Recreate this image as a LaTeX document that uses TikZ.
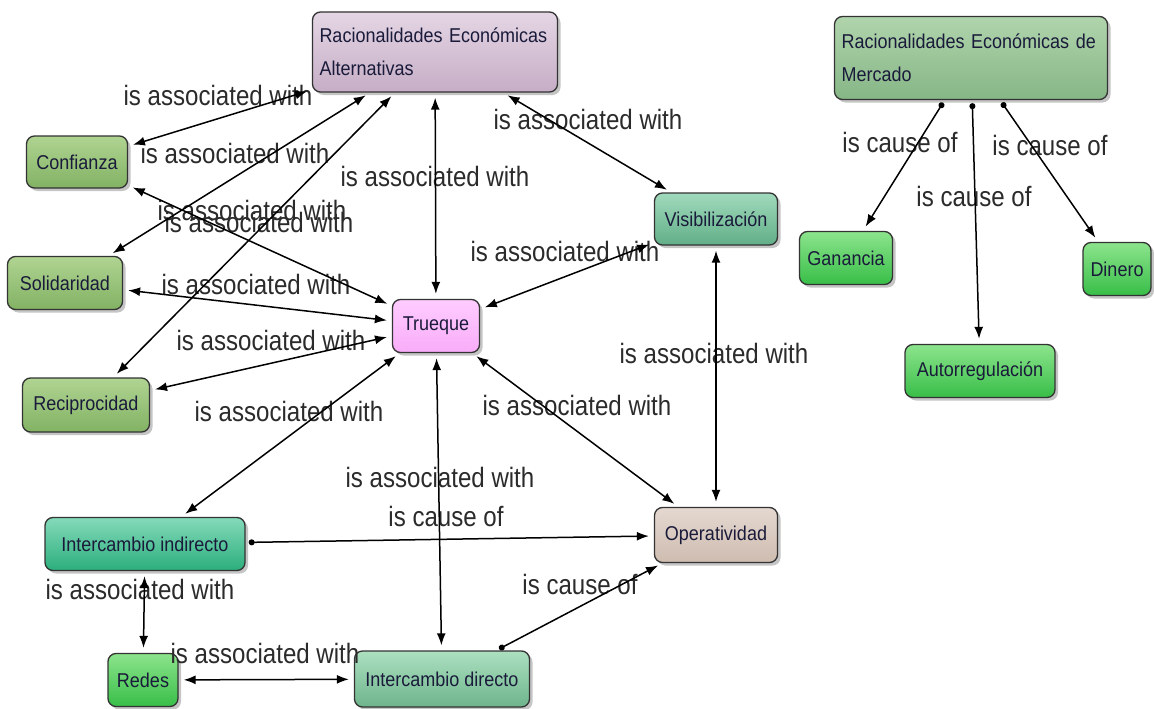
\documentclass[tikz,border=0pt]{standalone}
\usepackage{fontspec}
\setmainfont{Liberation Sans}
\newfontfamily\conceptfont[FakeStretch=0.9]{Liberation Sans}
\newfontfamily\linkfont[FakeStretch=0.86]{Liberation Sans}
\usetikzlibrary{arrows.meta,shadows}

\definecolor{conceptink}{HTML}{1A1A3A}
\definecolor{linkink}{HTML}{2B2B2B}

\tikzset{
  concept/.style={draw=black!80, line width=1.3pt, rounded corners=8pt, inner sep=6pt,
    text=conceptink, font=\conceptfont\fontsize{20}{33}\selectfont,
    drop shadow={shadow xshift=3pt, shadow yshift=-3pt, opacity=0.45}},
  linkphrase/.style={inner sep=0pt, text=linkink, font=\linkfont\fontsize{28}{30}\selectfont},
  assoc/.style={{Latex[length=12pt,width=9pt]}-{Latex[length=12pt,width=9pt]},
    line width=1.5pt, shorten <=5pt, shorten >=5pt},
  cause/.style={{Circle[length=6pt]}-{Latex[length=12pt,width=9pt]},
    line width=1.5pt, shorten <=3pt, shorten >=5pt},
}
% fills (top -> bottom)
\tikzset{
  lilac/.style={top color={rgb,255:red,228;green,214;blue,228}, bottom color={rgb,255:red,198;green,174;blue,198}},
  sage/.style={top color={rgb,255:red,176;green,212;blue,172}, bottom color={rgb,255:red,134;green,182;blue,134}},
  olive/.style={top color={rgb,255:red,176;green,212;blue,146}, bottom color={rgb,255:red,130;green,178;blue,100}},
  pink/.style={top color={rgb,255:red,255;green,204;blue,255}, bottom color={rgb,255:red,248;green,172;blue,248}},
  mint/.style={top color={rgb,255:red,160;green,218;blue,188}, bottom color={rgb,255:red,98;green,174;blue,136}},
  lime/.style={top color={rgb,255:red,140;green,228;blue,140}, bottom color={rgb,255:red,56;green,190;blue,72}},
  jade/.style={top color={rgb,255:red,132;green,218;blue,186}, bottom color={rgb,255:red,44;green,174;blue,124}},
  sand/.style={top color={rgb,255:red,228;green,216;blue,208}, bottom color={rgb,255:red,206;green,188;blue,176}},
  seafoam/.style={top color={rgb,255:red,172;green,224;blue,192}, bottom color={rgb,255:red,110;green,180;blue,140}},
}

\begin{document}
\begin{tikzpicture}[x=1pt, y=-1pt]
  \fill[white] (0,0) rectangle (1154,709);
  \useasboundingbox (0,0) rectangle (1154,709);

  % concepts
  \node[concept, lilac, minimum width=245, minimum height=80, text width=231, align=left] (racalt) at (435,52)
    {Racionalidades Económicas\\Alternativas};
  \node[concept, sage, minimum width=273, minimum height=83, text width=259, align=left] (racmerc) at (971,58)
    {Racionalidades Económicas de\\Mercado};
  \node[concept, olive, minimum width=101, minimum height=52] (conf) at (77,162) {Confianza};
  \node[concept, olive, minimum width=115, minimum height=53] (sol) at (65,283) {Solidaridad};
  \node[concept, olive, minimum width=127, minimum height=54] (rec) at (86,405) {Reciprocidad};
  \node[concept, pink, minimum width=87, minimum height=53] (trueque) at (436,326) {Trueque};
  \node[concept, mint, minimum width=123, minimum height=52] (visib) at (716,219) {Visibilización};
  \node[concept, lime, minimum width=93, minimum height=53] (gan) at (846,258) {Ganancia};
  \node[concept, lime, minimum width=68, minimum height=53] (din) at (1117,269) {Dinero};
  \node[concept, lime, minimum width=150, minimum height=53] (aut) at (980,371) {Autorregulación};
  \node[concept, jade, minimum width=200, minimum height=53] (intind) at (145,544) {Intercambio indirecto};
  \node[concept, sand, minimum width=123, minimum height=55] (oper) at (716,535) {Operatividad};
  \node[concept, lime, minimum width=70, minimum height=53] (redes) at (143,680) {Redes};
  \node[concept, seafoam, minimum width=175, minimum height=56] (intdir) at (442,679) {Intercambio directo};

  % linking phrases
  \node[linkphrase] (l1) at (218,95) {is associated with};
  \node[linkphrase] (l2) at (235,153) {is associated with};
  \node[linkphrase] (l3) at (252,210) {is associated with};
  \node[linkphrase] (l4) at (259,222) {is associated with};
  \node[linkphrase] (l5) at (435,176) {is associated with};
  \node[linkphrase] (l6) at (588,119) {is associated with};
  \node[linkphrase] (l7) at (565,251) {is associated with};
  \node[linkphrase] (l8) at (256,284) {is associated with};
  \node[linkphrase] (l9) at (271,340) {is associated with};
  \node[linkphrase] (l10) at (289,411) {is associated with};
  \node[linkphrase] (l11) at (714,353) {is associated with};
  \node[linkphrase] (l12) at (577,405) {is associated with};
  \node[linkphrase] (l13) at (440,477) {is associated with};
  \node[linkphrase] (l14) at (446,516) {is cause of};
  \node[linkphrase] (l15) at (580,584) {is cause of};
  \node[linkphrase] (l16) at (140,589) {is associated with};
  \node[linkphrase] (l17) at (265,653) {is associated with};
  \node[linkphrase] (l18) at (900,142) {is cause of};
  \node[linkphrase] (l19) at (1050,145) {is cause of};
  \node[linkphrase] (l20) at (974,196) {is cause of};

  % connectors
  \draw[assoc] (conf) -- (racalt);
  \draw[assoc] (sol) -- (racalt);
  \draw[assoc] (rec) -- (racalt);
  \draw[assoc] (racalt) -- (trueque);
  \draw[assoc] (racalt) -- (visib);
  \draw[assoc] (conf) -- (trueque);
  \draw[assoc] (sol) -- (trueque);
  \draw[assoc] (rec) -- (trueque);
  \draw[assoc] (visib) -- (trueque);
  \draw[assoc] (intind) -- (trueque);
  \draw[assoc] (trueque) -- (oper);
  \draw[assoc] (trueque) -- (intdir);
  \draw[assoc] (visib) -- (oper);
  \draw[assoc] (intind) -- (redes);
  \draw[assoc] (redes) -- (intdir);
  \draw[cause] (intind) -- (oper);
  \draw[cause] (intdir) -- (oper);
  \draw[cause] (racmerc) -- (gan);
  \draw[cause] (racmerc) -- (aut);
  \draw[cause] (racmerc) -- (din);
\end{tikzpicture}
\end{document}
